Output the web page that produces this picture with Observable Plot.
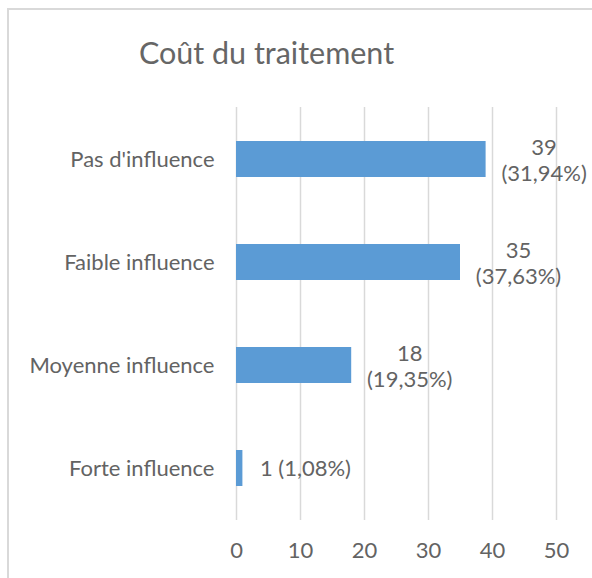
<!DOCTYPE html>
<html><head><meta charset="utf-8">
<script src="https://cdn.jsdelivr.net/npm/d3@7"></script>
<script src="https://cdn.jsdelivr.net/npm/@observablehq/plot@0.6"></script>
<style>
html,body{margin:0;padding:0;background:#fff;overflow:hidden;width:592px;height:578px;}
body{font-family:Lato,"Open Sans",sans-serif;position:relative;}
#frame{position:absolute;left:7px;top:8px;width:640px;height:640px;border:2px solid #d9d9d9;box-sizing:border-box;}
#wrap{position:absolute;left:0;top:0;width:592px;}
#title{height:95px;box-sizing:border-box;padding-top:34px;width:533px;text-align:center;font-size:30.5px;line-height:36px;color:#666666;}
svg{display:block;}
</style>
</head><body>
<div id="frame"></div>
<div id="wrap"><div id="title">Coût du traitement</div><div id="chart"></div></div>
<script>
const categories = ["Pas d'influence", "Faible influence", "Moyenne influence", "Forte influence"];
const counts = [39, 35, 18, 1];
const percents = ["31,94%", "37,63%", "19,35%", "1,08%"];
const xTicks = [0, 10, 20, 30, 40, 50];

const data = categories.map((c, i) => ({
  cat: c,
  count: counts[i],
  multi: counts[i] >= 10,
  label: counts[i] >= 10 ? `${counts[i]}\n(${percents[i]})` : `${counts[i]} (${percents[i]})`
}));

const txt = "#636363";
const chart = Plot.plot({
  width: 592,
  height: 483,
  marginLeft: 236,
  marginRight: 36,
  marginTop: 12,
  marginBottom: 58,
  style: {fontFamily: "Lato, sans-serif", fontSize: "22px", color: txt, background: "transparent"},
  x: {domain: [0, 50]},
  y: {domain: categories, paddingInner: 0.646, paddingOuter: 0.323},
  marks: [
    Plot.ruleX(xTicks, {stroke: "#d9d9d9", strokeWidth: 1.5}),
    Plot.barX(data, {x: "count", y: "cat", fill: "#5b9bd5"}),
    Plot.text(data.filter(d => d.multi), {x: "count", y: "cat", text: "label", dx: 58, textAnchor: "middle", lineHeight: 1.2, fill: txt, fontSize: 22}),
    Plot.text(data.filter(d => !d.multi), {x: "count", y: "cat", text: "label", dx: 17, textAnchor: "start", fill: txt, fontSize: 22}),
    Plot.axisX({ticks: xTicks, tickSize: 0, tickPadding: 22, label: null, fontSize: 22, fill: txt}),
    Plot.axisY({tickSize: 0, tickPadding: 22, label: null, fontSize: 22, fill: txt})
  ]
});
document.getElementById("chart").appendChild(chart);
</script>
</body></html>
